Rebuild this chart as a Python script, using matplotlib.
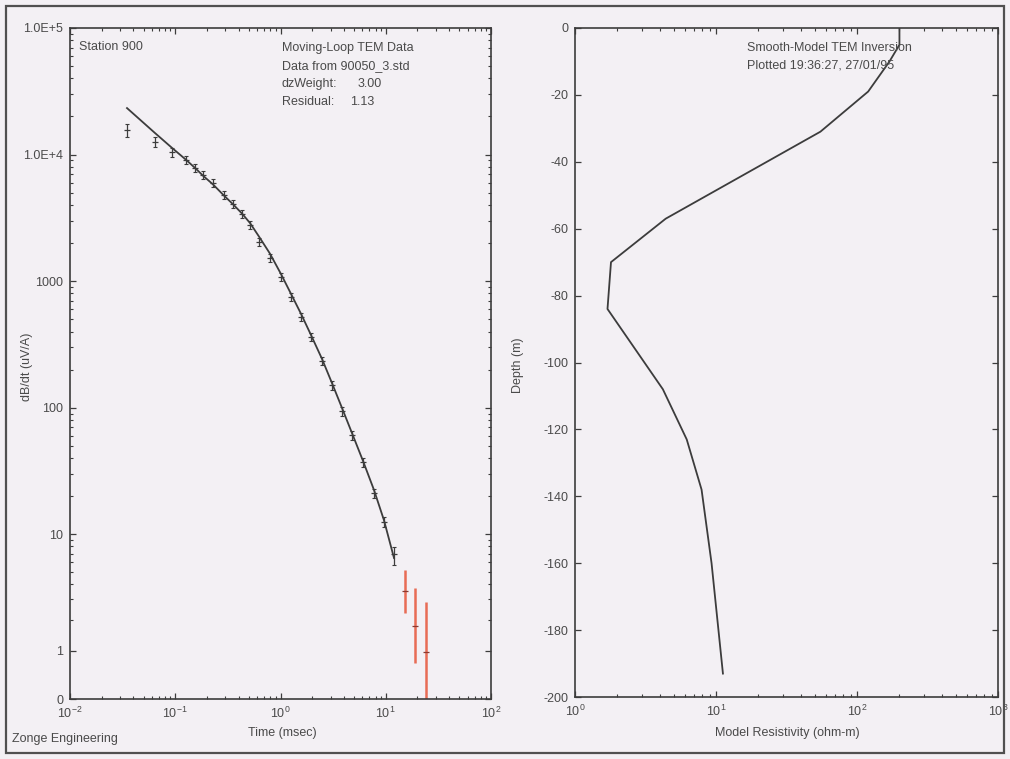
import matplotlib
matplotlib.use("Agg")
import matplotlib.pyplot as plt
import matplotlib.ticker as mticker
from matplotlib.patches import Rectangle

# decay curve, station 900 (time in msec, dB/dt in uV/A)
times = [0.0348, 0.0642, 0.0931, 0.1265, 0.154, 0.184, 0.229, 0.290, 0.354,
         0.431, 0.513, 0.625, 0.794, 1.01, 1.26, 1.57, 1.95, 2.48, 3.08,
         3.84, 4.78, 6.08, 7.73, 9.62, 11.98, 15.2, 18.9, 24.1]
observed = [15600, 12600, 10500, 9060, 7840, 6900, 5970, 4800, 4070, 3390,
            2780, 2040, 1525, 1080, 750, 521, 362, 234, 151, 94, 61, 37,
            21.2, 12.5, 6.95, 3.50, 1.75, 0.96]
err_lo = [1800, 1100, 850, 700, 600, 530, 460, 370, 310, 260, 210, 160, 115,
          85, 58, 40, 28, 18, 12, 7.5, 5, 3, 1.8, 1.2, 1.3, 1.21, 1.05, 0.96]
err_hi = [1800, 1100, 850, 700, 600, 530, 460, 370, 310, 260, 210, 160, 115,
          85, 58, 40, 28, 18, 12, 7.5, 5, 3, 1.8, 1.2, 0.9, 1.68, 1.95, 1.87]
n_good = 25  # last three gates are drawn in red

model_times = times[:25]
model_resp = [23300, 14800, 11300, 9100, 7850, 6800, 5800, 4750, 4050, 3420,
              2880, 2250, 1650, 1140, 792, 550, 375, 243, 157, 99.6, 63, 38,
              22.4, 12.9, 6.46]

# smooth-model inversion
depth = [0, -5, -10, -19, -31, -57, -70, -84, -108, -123, -138, -160, -193]
resistivity = [200, 200, 170, 120, 55, 4.4, 1.8, 1.7, 4.2, 6.2, 7.9, 9.3, 11.2]

ytick_vals = [0, 1, 10, 100, 1000, 1e4, 1e5]
ytick_labels = ["0", "1", "10", "100", "1000", "1.0E+4", "1.0E+5"]
depth_ticks = list(range(-200, 1, 20))

bg = "#f3f0f4"
ink = "#3c3c3c"
txt = "#4a4a4a"
red = "#e86c55"

plt.rcParams.update({
    "font.family": ["Liberation Sans", "DejaVu Sans"],
    "font.size": 9,
    "axes.unicode_minus": False,
    "mathtext.default": "regular",
})

W, H = 1010, 759


def px(x, y):
    return x / W, 1 - y / H


def style_axes(ax):
    ax.set_facecolor(bg)
    for sp in ax.spines.values():
        sp.set_color(ink)
        sp.set_linewidth(1.2)
    ax.tick_params(which="both", direction="in", top=True, right=True,
                   color=ink, labelcolor=txt, labelsize=9, pad=5)
    ax.tick_params(which="major", length=4.5, width=0.9)
    ax.tick_params(which="minor", length=2.5, width=0.8)


fig = plt.figure(figsize=(W / 100, H / 100), dpi=100, facecolor=bg)

# left panel: decay curve
ax1 = fig.add_axes([70 / W, 60 / H, 421 / W, 671 / H])
ax1.set_xscale("log")
ax1.set_yscale("asinh", linear_width=1.0)
ax1.set_xlim(1e-2, 1e2)
ax1.set_ylim(0, 1e5)
ax1.yaxis.set_major_locator(mticker.FixedLocator(ytick_vals))
ax1.yaxis.set_major_formatter(mticker.FixedFormatter(ytick_labels))
ax1.yaxis.set_minor_locator(mticker.FixedLocator(
    [k * 10 ** n for n in range(0, 5) for k in range(2, 10)]))
ax1.xaxis.set_major_locator(mticker.LogLocator(base=10))
ax1.xaxis.set_minor_locator(mticker.LogLocator(base=10, subs=range(2, 10)))
ax1.xaxis.set_minor_formatter(mticker.NullFormatter())
style_axes(ax1)

ax1.plot(model_times, model_resp, color=ink, lw=1.3)
ax1.errorbar(times[:n_good], observed[:n_good],
             yerr=[err_lo[:n_good], err_hi[:n_good]], fmt="none",
             ecolor=ink, elinewidth=0.9, capsize=1.5, capthick=0.8)
ax1.plot(times[:n_good], observed[:n_good], ls="none", marker="_",
         ms=5, mew=0.9, color=ink)
ax1.errorbar(times[n_good:], observed[n_good:],
             yerr=[err_lo[n_good:], err_hi[n_good:]], fmt="none",
             ecolor=red, elinewidth=1.8)
ax1.plot(times[n_good:], observed[n_good:], ls="none", marker="_",
         ms=5, mew=0.9, color="#8a3a30")

# right panel: resistivity model
ax2 = fig.add_axes([575 / W, 62 / H, 423 / W, 669 / H])
ax2.set_xscale("log")
ax2.set_xlim(1, 1000)
ax2.set_ylim(-200, 0)
ax2.yaxis.set_major_locator(mticker.FixedLocator(depth_ticks))
ax2.yaxis.set_major_formatter(mticker.FuncFormatter(lambda v, p: "%d" % v))
ax2.xaxis.set_major_locator(mticker.LogLocator(base=10))
ax2.xaxis.set_minor_locator(mticker.LogLocator(base=10, subs=range(2, 10)))
ax2.xaxis.set_minor_formatter(mticker.NullFormatter())
style_axes(ax2)
ax2.plot(resistivity, depth, color=ink, lw=1.3)

# annotations
fig.text(*px(79, 47), "Station 900", color=txt, va="center")
fig.text(*px(282, 48), "Moving-Loop TEM Data", color=txt, va="center")
fig.text(*px(282, 66), "Data from 90050_3.std", color=txt, va="center")
fig.text(*px(282, 84), "dzWeight:", color=txt, va="center")
fig.text(*px(358, 84), "3.00", color=txt, va="center")
fig.text(*px(282, 102), "Residual:", color=txt, va="center")
fig.text(*px(350, 102), "1.13", color=txt, va="center")

fig.text(*px(747, 48), "Smooth-Model TEM Inversion", color=txt, va="center")
fig.text(*px(747, 66), "Plotted 19:36:27, 27/01/95", color=txt, va="center")

fig.text(*px(282, 733), "Time (msec)", color=txt, ha="center", va="center")
fig.text(*px(787, 733), "Model Resistivity (ohm-m)", color=txt,
         ha="center", va="center")
fig.text(*px(27, 367), "dB/dt (uV/A)", color=txt, rotation=90,
         ha="center", va="center")
fig.text(*px(518, 365), "Depth (m)", color=txt, rotation=90,
         ha="center", va="center")
fig.text(*px(12, 739), "Zonge Engineering", color=txt, va="center")

fig.add_artist(Rectangle((6 / W, 6 / H), 998 / W, 747 / H,
                         transform=fig.transFigure, fill=False,
                         ec="#505050", lw=1.6))

fig.savefig("out.png", dpi=100, facecolor=bg)
